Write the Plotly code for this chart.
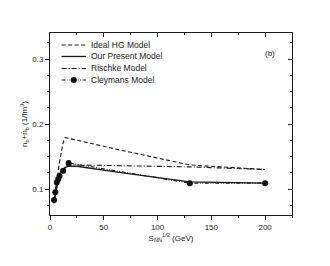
import plotly.graph_objects as go

# Data
x_model = [3.5, 4.9, 6.3, 7.6, 8.8, 12.3, 14.0, 17.3, 25.0, 62.4, 130.0, 200.0]
ideal_hg = [0.080, 0.096, 0.112, 0.127, 0.141, 0.172, 0.179, 0.178, 0.175, 0.161, 0.137, 0.130]
present = [0.078, 0.090, 0.105, 0.115, 0.122, 0.131, 0.133, 0.135, 0.135, 0.126, 0.111, 0.109]
rischke = [0.080, 0.092, 0.107, 0.117, 0.124, 0.132, 0.134, 0.137, 0.137, 0.136, 0.134, 0.130]

x_cley = [3.8, 4.9, 6.3, 7.6, 8.8, 12.3, 17.3, 130.0, 200.0]
cleymans = [0.083, 0.095, 0.110, 0.115, 0.120, 0.128, 0.140, 0.109, 0.109]

names = ["Ideal HG Model", "Our Present Model", "Rischke Model", "Cleymans Model"]
x_ticks = [0, 50, 100, 150, 200]
y_ticks = [0.1, 0.2, 0.3]
y_tick_labels = ["0.1", "0.2", "0.3"]

x_range = [0, 225]
y_range = [0.06, 0.34]

FONT = "Arial, Liberation Sans, sans-serif"
INK = "#1a1a1a"

dashes = ["4px,2.5px", "solid", "5px,2px,1px,2px", "4px,1.5px,1px,1.5px,1px,1.5px"]
widths = [1.1, 1.3, 1.1, 1.1]
series = [(x_model, ideal_hg), (x_model, present), (x_model, rischke), (x_cley, cleymans)]

fig = go.Figure()
for i, (xs, ys) in enumerate(series):
    mode = "lines+markers" if i == 3 else "lines"
    fig.add_trace(go.Scatter(x=xs, y=ys, mode=mode, name=names[i],
                             line=dict(color=INK, width=widths[i], dash=dashes[i]),
                             marker=dict(symbol="circle", size=6, color="#111")))
# invisible trace for the mirrored top/right axes
fig.add_trace(go.Scatter(x=x_cley, y=cleymans, xaxis="x2", yaxis="y2", mode="lines",
                         line=dict(color="rgba(0,0,0,0)"), showlegend=False, hoverinfo="skip"))

# Manual legend (compact like the reference)
shapes = []
annotations = []
leg_y = [0.934, 0.871, 0.805, 0.742]
lx0, lx1, ltx = 0.048, 0.149, 0.163
for i, name in enumerate(names):
    shapes.append(dict(type="line", xref="paper", yref="paper", x0=lx0, x1=lx1,
                       y0=leg_y[i], y1=leg_y[i],
                       line=dict(color=INK, width=widths[i], dash=dashes[i])))
    annotations.append(dict(text=name, x=ltx, y=leg_y[i], xref="paper", yref="paper",
                            xanchor="left", yanchor="middle", showarrow=False,
                            font=dict(size=8.5, family=FONT, color=INK)))
shapes.append(dict(type="circle", xref="paper", yref="paper",
                   xsizemode="pixel", ysizemode="pixel",
                   xanchor=(lx0 + lx1) / 2, yanchor=leg_y[3],
                   x0=-3, x1=3, y0=-3, y1=3, fillcolor="#111", line=dict(width=0)))
annotations.append(dict(text="(b)", x=0.94, y=0.925, xref="paper", yref="paper",
                        showarrow=False, font=dict(size=8, family=FONT, color=INK)))

axis_common = dict(showgrid=False, zeroline=False, showline=True, linecolor=INK,
                   linewidth=1, tickcolor=INK, ticklen=4, tickwidth=1, automargin=False)

fig.update_layout(
    width=322, height=258,
    margin=dict(l=42, r=38, t=25, b=51),
    paper_bgcolor="white", plot_bgcolor="white",
    font=dict(family=FONT, size=8, color=INK),
    showlegend=False,
    xaxis=dict(range=x_range, tickvals=x_ticks, ticks="outside",
               minor=dict(dtick=25, ticks="outside", ticklen=2, tickcolor=INK),
               title=dict(text="S<sub>NN</sub><sup>1/2</sup> (GeV)", font=dict(size=8), standoff=4),
               tickfont=dict(size=8), **axis_common),
    yaxis=dict(range=y_range, tickvals=y_ticks, ticktext=y_tick_labels, ticks="outside",
               minor=dict(dtick=0.025, tick0=0, ticks="outside", ticklen=2, tickcolor=INK),
               title=dict(text="n<sub>b</sub>+n\u0304<sub>b</sub> (1/fm<sup>3</sup>)", font=dict(size=8), standoff=3),
               tickfont=dict(size=8), **axis_common),
    xaxis2=dict(range=x_range, overlaying="x", side="top", tickvals=x_ticks, ticks="inside",
                showticklabels=False,
                minor=dict(dtick=25, ticks="inside", ticklen=2, tickcolor=INK),
                **axis_common),
    yaxis2=dict(range=y_range, overlaying="y", side="right", tickvals=y_ticks, ticks="inside",
                showticklabels=False,
                minor=dict(dtick=0.025, tick0=0, ticks="inside", ticklen=2, tickcolor=INK),
                **axis_common),
    shapes=shapes,
    annotations=annotations,
)

fig.write_html("out.html")
